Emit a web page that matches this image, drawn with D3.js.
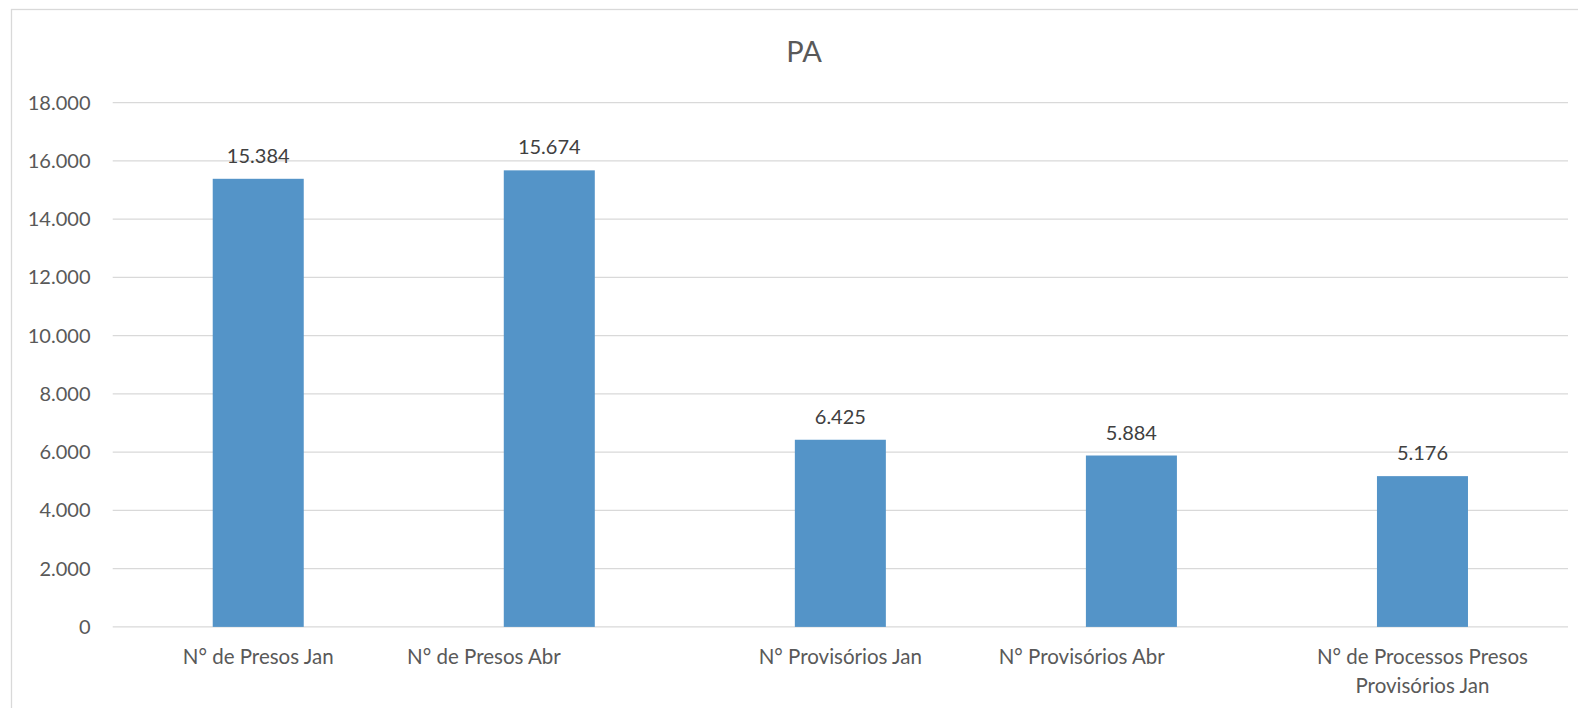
<!DOCTYPE html>
<html>
<head>
<meta charset="utf-8">
<script src="https://cdn.jsdelivr.net/npm/d3@7"></script>
<style>
  html, body { margin: 0; padding: 0; background: #fff; }
  svg text { font-family: Lato, "Open Sans", sans-serif; white-space: pre; }
</style>
</head>
<body>
<svg id="chart" width="1578" height="708"></svg>
<script>
const title = "PA";
const categories = [
  "N° de Presos Jan",
  "N° de Presos Abr" + " ".repeat(25),
  "N° Provisórios Jan",
  "N° Provisórios Abr" + " ".repeat(19),
  "N° de Processos Presos Provisórios Jan"
];
const values = [15384, 15674, 6425, 5884, 5176];
const yTicks = [0, 2000, 4000, 6000, 8000, 10000, 12000, 14000, 16000, 18000];
const yMax = 18000;

const svg = d3.select("#chart");
const W = 1578, H = 708;
const plot = { left: 112.7, right: 1568, top: 102.6, bottom: 626.9 };

const fmt = v => d3.format(",")(v).replace(/,/g, ".");

// outer border
svg.append("rect")
  .attr("x", 11.5).attr("y", 9.5)
  .attr("width", W + 10).attr("height", H + 10)
  .attr("fill", "#fff").attr("stroke", "#d9d9d9").attr("stroke-width", 1.3);

const x = d3.scaleBand()
  .domain(categories)
  .range([plot.left, plot.right])
  .paddingInner(0.6873)
  .paddingOuter(0.34365);

const y = d3.scaleLinear().domain([0, yMax]).range([plot.bottom, plot.top]);

// gridlines
svg.append("g").selectAll("line")
  .data(yTicks)
  .join("line")
  .attr("x1", plot.left).attr("x2", plot.right)
  .attr("y1", d => y(d)).attr("y2", d => y(d))
  .attr("stroke", "#d9d9d9").attr("stroke-width", 1.3);

// y axis labels
const yAxis = d3.axisLeft(y).tickValues(yTicks).tickFormat(fmt).tickSize(0).tickPadding(0);
const gy = svg.append("g").attr("transform", "translate(90.5,0)").call(yAxis);
gy.select(".domain").remove();
gy.selectAll("text")
  .attr("fill", "#595959")
  .style("font-size", "20px")
  .style("font-family", "Lato, 'Open Sans', sans-serif");

// bars
svg.append("g").selectAll("rect")
  .data(values)
  .join("rect")
  .attr("x", (d, i) => x(categories[i]))
  .attr("width", x.bandwidth())
  .attr("y", d => y(d))
  .attr("height", d => y(0) - y(d))
  .attr("fill", "#5494c8");

// data labels
svg.append("g").selectAll("text")
  .data(values)
  .join("text")
  .attr("x", (d, i) => x(categories[i]) + x.bandwidth() / 2)
  .attr("y", d => y(d) - 16)
  .attr("text-anchor", "middle")
  .attr("fill", "#404040")
  .style("font-size", "20px")
  .text(d => fmt(d));

// category labels (x axis)
const step = x.step();
const gx = svg.append("g");
categories.forEach((c, i) => {
  const t = gx.append("text")
    .attr("x", x(c) + x.bandwidth() / 2)
    .attr("y", 663.5)
    .attr("text-anchor", "middle")
    .attr("fill", "#595959")
    .style("font-size", "20.5px");
  const words = c.split(" ");
  let line = "";
  const lines = [];
  const probe = t.append("tspan");
  words.forEach((w, k) => {
    const cand = k === 0 ? w : line + " " + w;
    probe.text(cand.trimEnd());
    if (w !== "" && probe.node().getComputedTextLength() > step * 0.85 && line.trim() !== "") {
      lines.push(line);
      line = w;
    } else {
      line = cand;
    }
  });
  lines.push(line);
  probe.remove();
  lines.forEach((l, j) => {
    t.append("tspan")
      .attr("x", x(c) + x.bandwidth() / 2)
      .attr("dy", j === 0 ? 0 : 29)
      .text(l);
  });
});

// title
svg.append("text")
  .attr("x", 804)
  .attr("y", 61.7)
  .attr("text-anchor", "middle")
  .attr("fill", "#595959")
  .style("font-size", "29px")
  .text(title);
</script>
</body>
</html>
